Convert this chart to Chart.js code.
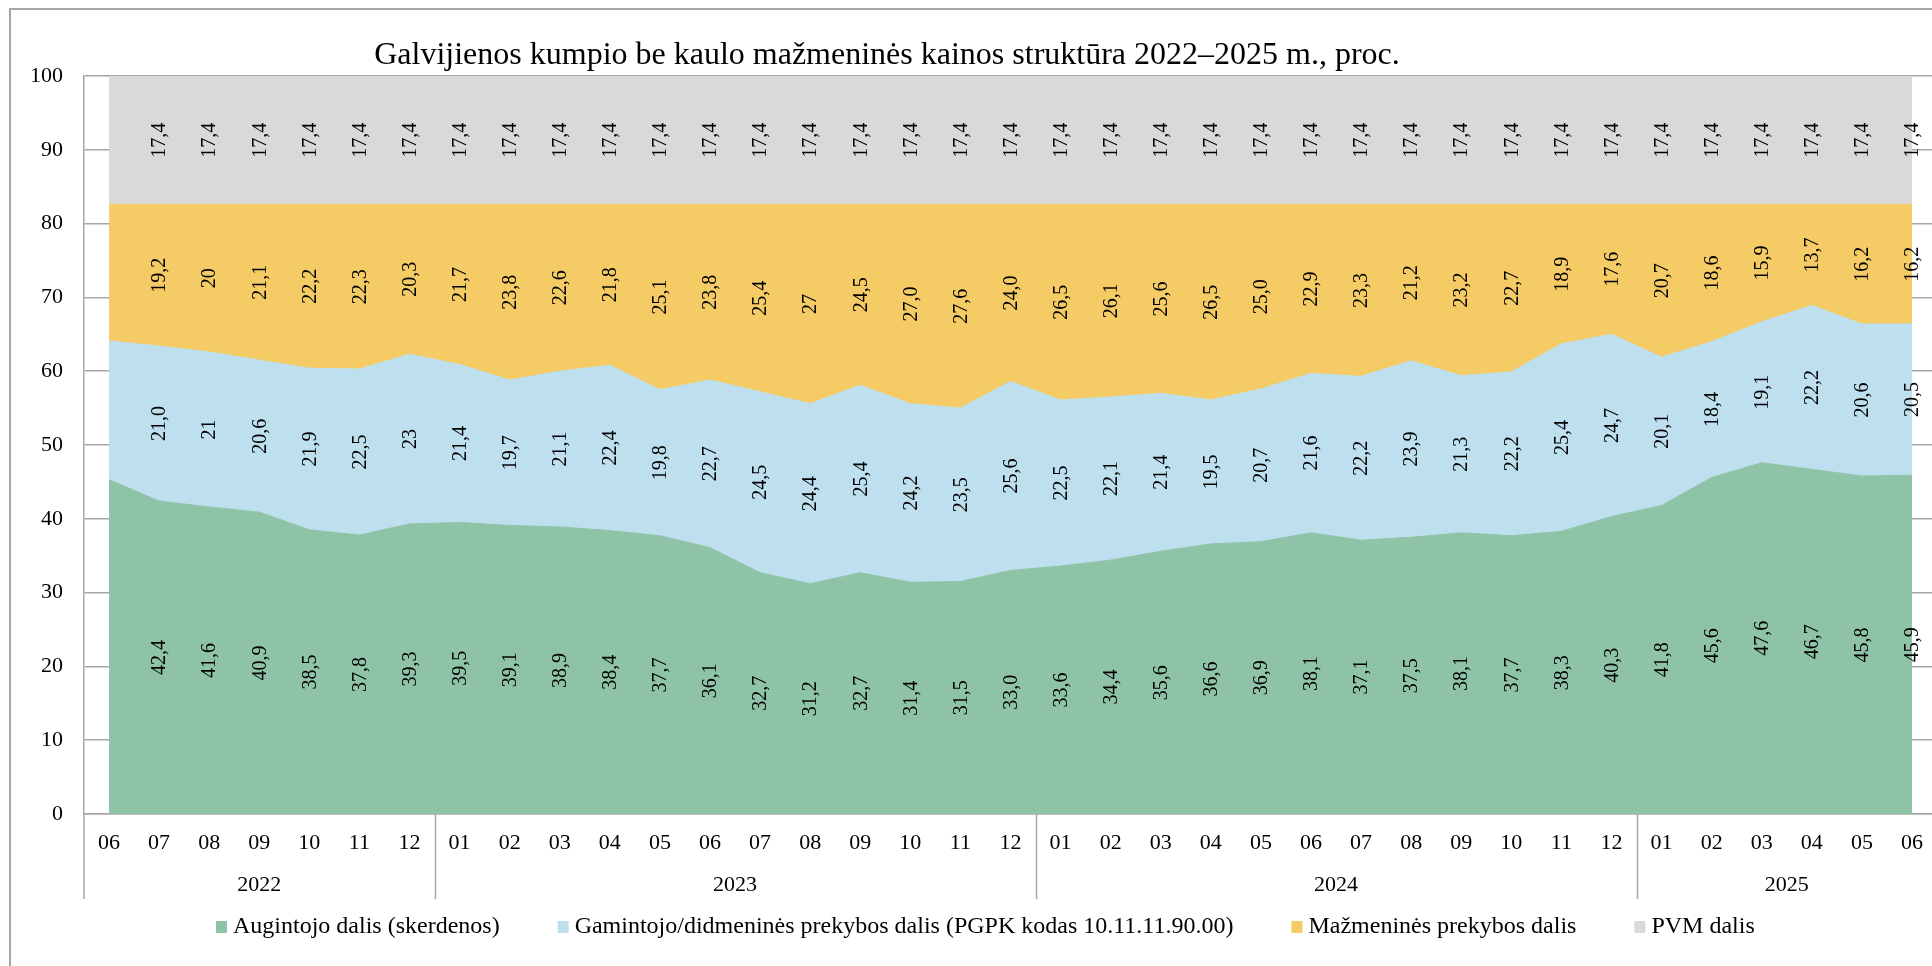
<!DOCTYPE html>
<html>
<head>
<meta charset="utf-8">
<script src="https://cdn.jsdelivr.net/npm/chart.js@4.4.1/dist/chart.umd.min.js"></script>
<style>
html, body { margin: 0; padding: 0; overflow: hidden; background: #fff; width: 1932px; height: 966px; }
#wrap { position: absolute; left: 0; top: 0; width: 1962px; height: 966px; }
</style>
</head>
<body>
<div id="wrap"><canvas id="c" width="1962" height="966"></canvas></div>
<script>
// ---- Data ----
const titleText = 'Galvijienos kumpio be kaulo mažmeninės kainos struktūra 2022–2025 m., proc.';

const months = [
  '06','07','08','09','10','11','12',
  '01','02','03','04','05','06','07','08','09','10','11','12',
  '01','02','03','04','05','06','07','08','09','10','11','12',
  '01','02','03','04','05','06'
];
const yearLabels = ['2022', '2023', '2024', '2025'];
const yearStart  = [0, 7, 19, 31];
const yearEnd    = [6, 18, 30, 36];

const seriesNames = [
  'Augintojo dalis (skerdenos)',
  'Gamintojo/didmeninės prekybos dalis (PGPK kodas 10.11.11.90.00)',
  'Mažmeninės prekybos dalis',
  'PVM dalis'
];

const augintojo = [45.3, 42.4, 41.6, 40.9, 38.5, 37.8, 39.3,
  39.5, 39.1, 38.9, 38.4, 37.7, 36.1, 32.7, 31.2, 32.7, 31.4, 31.5, 33.0,
  33.6, 34.4, 35.6, 36.6, 36.9, 38.1, 37.1, 37.5, 38.1, 37.7, 38.3, 40.3,
  41.8, 45.6, 47.6, 46.7, 45.8, 45.9];

const gamintojo = [18.8, 21.0, 21, 20.6, 21.9, 22.5, 23,
  21.4, 19.7, 21.1, 22.4, 19.8, 22.7, 24.5, 24.4, 25.4, 24.2, 23.5, 25.6,
  22.5, 22.1, 21.4, 19.5, 20.7, 21.6, 22.2, 23.9, 21.3, 22.2, 25.4, 24.7,
  20.1, 18.4, 19.1, 22.2, 20.6, 20.5];

const mazmenine = [18.5, 19.2, 20, 21.1, 22.2, 22.3, 20.3,
  21.7, 23.8, 22.6, 21.8, 25.1, 23.8, 25.4, 27, 24.5, 27.0, 27.6, 24.0,
  26.5, 26.1, 25.6, 26.5, 25.0, 22.9, 23.3, 21.2, 23.2, 22.7, 18.9, 17.6,
  20.7, 18.6, 15.9, 13.7, 16.2, 16.2];

const pvm = [17.4, 17.4, 17.4, 17.4, 17.4, 17.4, 17.4,
  17.4, 17.4, 17.4, 17.4, 17.4, 17.4, 17.4, 17.4, 17.4, 17.4, 17.4, 17.4,
  17.4, 17.4, 17.4, 17.4, 17.4, 17.4, 17.4, 17.4, 17.4, 17.4, 17.4, 17.4,
  17.4, 17.4, 17.4, 17.4, 17.4, 17.4];

// labels printed without a decimal in the original (dataset index -> category indices)
const wholeNumberLabels = { 1: [2, 6], 2: [2, 14] };
// first category carries no data labels
const firstLabelledIndex = 1;

const yTicks = [0, 10, 20, 30, 40, 50, 60, 70, 80, 90, 100];

// ---- Styling ----
const FONT = "'Liberation Serif', 'Times New Roman', serif";
const colors = ['#8EC3A8', '#BDDFEE', '#F4CB64', '#D9D9D9'];
const gridColor = '#A6A6A6';

function fmt(v, dsIndex, i) {
  const whole = wholeNumberLabels[dsIndex];
  if (whole && whole.includes(i)) return String(Math.round(v));
  return v.toFixed(1).replace('.', ',');
}

const decor = {
  id: 'decor',
  beforeDraw(chart) {
    const ctx = chart.ctx;
    ctx.save();
    ctx.fillStyle = '#fff';
    ctx.fillRect(0, 0, chart.width, chart.height);
    ctx.strokeStyle = gridColor;
    ctx.lineWidth = 2;
    ctx.strokeRect(10, 9, chart.width + 100, chart.height + 100);
    ctx.restore();
  },
  afterDatasetsDraw(chart) {
    const ctx = chart.ctx;
    const xs = chart.scales.x, ys = chart.scales.y;
    const ds = chart.data.datasets;
    ctx.save();
    ctx.fillStyle = '#000';
    ctx.font = '20px ' + FONT;
    ctx.textAlign = 'center';
    ctx.textBaseline = 'middle';
    for (let i = firstLabelledIndex; i < months.length; i++) {
      let base = 0;
      for (let d = 0; d < ds.length; d++) {
        const v = ds[d].data[i];
        const mid = base + v / 2;
        base += v;
        const x = xs.getPixelForValue(i);
        const y = ys.getPixelForValue(mid);
        ctx.save();
        ctx.translate(x, y);
        ctx.rotate(-Math.PI / 2);
        ctx.fillText(fmt(v, d, i), 0, 1);
        ctx.restore();
      }
    }
    ctx.restore();
  },
  afterDraw(chart) {
    const ctx = chart.ctx;
    const xs = chart.scales.x;
    const area = chart.chartArea;
    const step = xs.getPixelForValue(1) - xs.getPixelForValue(0);
    ctx.save();
    // title
    ctx.fillStyle = '#000';
    ctx.font = '32px ' + FONT;
    ctx.textAlign = 'center';
    ctx.textBaseline = 'middle';
    ctx.fillText(titleText, 887, 56);

    // category axis group lines
    ctx.strokeStyle = gridColor;
    ctx.lineWidth = 1.5;
    const lineBottom = 899;
    ctx.beginPath();
    ctx.moveTo(area.left, area.bottom);
    ctx.lineTo(area.left, lineBottom);
    for (let g = 0; g < yearLabels.length - 1; g++) {
      const bx = Math.round(xs.getPixelForValue(yearEnd[g]) + step / 2) + 0.5;
      ctx.moveTo(bx, area.bottom);
      ctx.lineTo(bx, lineBottom);
    }
    ctx.stroke();

    // year labels
    ctx.font = '22px ' + FONT;
    for (let g = 0; g < yearLabels.length; g++) {
      const l = xs.getPixelForValue(yearStart[g]) - step / 2;
      const r = xs.getPixelForValue(yearEnd[g]) + step / 2;
      ctx.fillText(yearLabels[g], (l + r) / 2, 885);
    }

    // legend
    ctx.font = '24px ' + FONT;
    ctx.textAlign = 'left';
    let lx = 216;
    const ly = 927;
    chart.data.datasets.forEach((d) => {
      ctx.fillStyle = d.backgroundColor;
      ctx.fillRect(lx, ly - 6, 11, 12);
      ctx.fillStyle = '#000';
      ctx.fillText(d.label, lx + 17, ly);
      lx += 17 + ctx.measureText(d.label).width + 58;
    });
    ctx.restore();
  }
};

const seriesData = [augintojo, gamintojo, mazmenine, pvm];

new Chart(document.getElementById('c'), {
  type: 'line',
  data: {
    labels: months,
    datasets: seriesData.map((arr, k) => ({
      label: seriesNames[k],
      data: arr,
      backgroundColor: colors[k],
      borderColor: colors[k],
      borderWidth: k === 3 ? 0 : 1,
      pointRadius: 0,
      tension: 0,
      fill: k === 0 ? 'origin' : '-1'
    }))
  },
  options: {
    responsive: false,
    maintainAspectRatio: false,
    animation: false,
    events: [],
    layout: { padding: { top: 76, left: 0, right: 25, bottom: 0 } },
    plugins: {
      legend: { display: false },
      title: { display: false },
      tooltip: { enabled: false }
    },
    scales: {
      x: {
        offset: true,
        grid: { display: false, drawTicks: false },
        border: { display: true, color: gridColor, width: 1.5 },
        ticks: {
          color: '#000',
          font: { family: FONT, size: 22 },
          padding: 16,
          maxRotation: 0,
          autoSkip: false
        },
        afterFit(s) { s.height = 152; }
      },
      y: {
        stacked: true,
        min: 0,
        max: 100,
        afterBuildTicks(s) { s.ticks = yTicks.map(v => ({ value: v })); },
        grid: { color: gridColor, lineWidth: 1.5, drawTicks: false },
        border: { display: true, color: gridColor, width: 1.5 },
        ticks: {
          color: '#000',
          font: { family: FONT, size: 22 },
          padding: 21
        },
        afterFit(s) { s.width = 84; }
      }
    }
  },
  plugins: [decor]
});
</script>
</body>
</html>
